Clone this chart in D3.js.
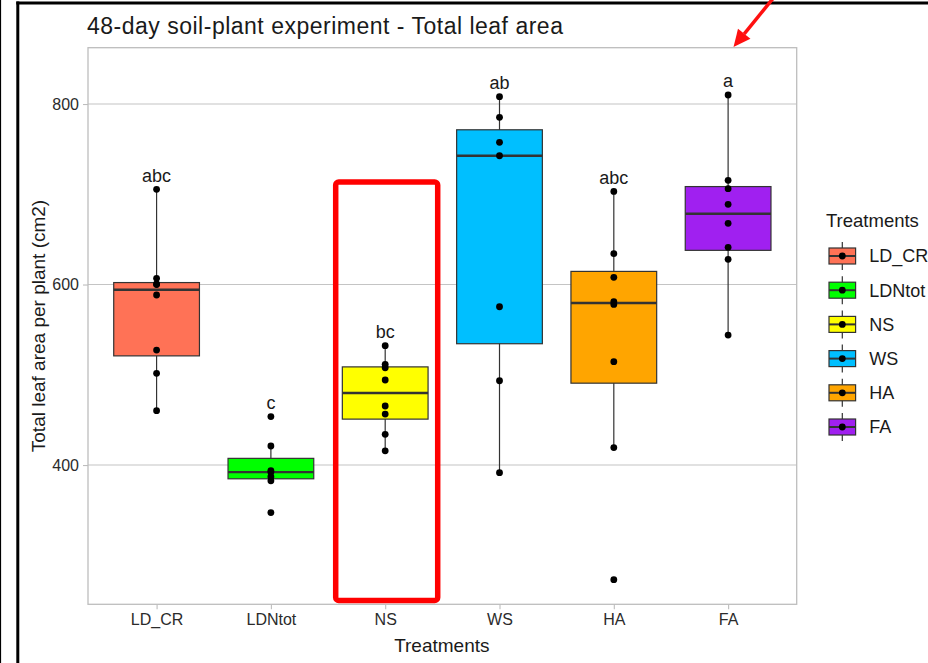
<!DOCTYPE html>
<html>
<head>
<meta charset="utf-8">
<script src="https://cdn.jsdelivr.net/npm/d3@7"></script>
<style>
  html, body { margin: 0; padding: 0; background: #fff; overflow: hidden; }
  svg { display: block; font-family: "Liberation Sans", Arial, sans-serif; }
</style>
</head>
<body>
<svg id="chart" width="928" height="663"></svg>
<script>
// Treatments and their colours
const treatments = ["LD_CR", "LDNtot", "NS", "WS", "HA", "FA"];
const fills = ["#FF7256", "#00FF00", "#FFFF00", "#00BFFF", "#FFA500", "#A020F0"];
const letters = ["abc", "c", "bc", "ab", "abc", "a"];

// Total leaf area per plant (cm2), one array per treatment
const LD_CR = [705.5, 606.9, 600.6, 600.0, 588.4, 527.4, 501.6, 460.2];
const LDNtot = [453.7, 421.1, 393.7, 392.2, 387.0, 382.5, 347.3];
const NS = [532.2, 511.6, 507.8, 494.2, 465.4, 456.5, 434.0, 415.8];
const WS = [808.1, 785.3, 757.6, 742.7, 575.4, 493.4, 391.5];
const HA = [703.2, 634.2, 608.0, 581.0, 578.0, 514.5, 419.3, 273.0];
const FA = [810.0, 715.5, 706.2, 688.9, 667.8, 641.2, 627.9, 544.0];

const yTicks = [400, 600, 800];
const yDomain = [245.7, 862.4];

const values = [LD_CR, LDNtot, NS, WS, HA, FA];

const svg = d3.select("#chart");
const panel = { left: 88, right: 796.7, top: 47.7, bottom: 604.3 };

const x = d3.scalePoint().domain(treatments).range([panel.left, panel.right]).padding(0.6);
const y = d3.scaleLinear().domain(yDomain).range([panel.bottom, panel.top]);
const boxW = x.step() * 0.75;

// Tukey box statistics (R type-7 quantiles)
const stats = values.map((v, i) => {
  const s = v.slice().sort(d3.ascending);
  const q1 = d3.quantile(s, 0.25), med = d3.quantile(s, 0.5), q3 = d3.quantile(s, 0.75);
  const iqr = q3 - q1;
  const inside = s.filter(d => d >= q1 - 1.5 * iqr && d <= q3 + 1.5 * iqr);
  return { key: treatments[i], fill: fills[i], q1, med, q3, lo: d3.min(inside), hi: d3.max(inside), max: d3.max(s), pts: s };
});

// outer frame
svg.append("line").attr("x1", 0.5).attr("x2", 0.5).attr("y1", 0).attr("y2", 663)
  .attr("stroke", "#000").attr("stroke-width", 1.2);
svg.append("line").attr("x1", 17.8).attr("x2", 17.8).attr("y1", 1.5).attr("y2", 663)
  .attr("stroke", "#000").attr("stroke-width", 3);
svg.append("line").attr("x1", 16.3).attr("x2", 928).attr("y1", 3).attr("y2", 3)
  .attr("stroke", "#000").attr("stroke-width", 3);

// title
svg.append("text").attr("x", panel.left - 1).attr("y", 33.5)
  .attr("font-size", 23).attr("letter-spacing", 0.5).attr("fill", "#1a1a1a")
  .text("48-day soil-plant experiment - Total leaf area");

// grid lines
svg.append("g").selectAll("line").data(yTicks).join("line")
  .attr("x1", panel.left).attr("x2", panel.right)
  .attr("y1", d => y(d)).attr("y2", d => y(d))
  .attr("stroke", "#c4c4c4").attr("stroke-width", 1.1);

// axes
const yAxis = svg.append("g").attr("transform", `translate(${panel.left},0)`)
  .call(d3.axisLeft(y).tickValues(yTicks).tickSize(5).tickPadding(4));
const xAxis = svg.append("g").attr("transform", `translate(0,${panel.bottom})`)
  .call(d3.axisBottom(x).tickSize(5).tickPadding(4));
[yAxis, xAxis].forEach(g => {
  g.select(".domain").remove();
  g.selectAll(".tick line").attr("stroke", "#bdbdbd").attr("stroke-width", 1.1);
  g.selectAll(".tick text").attr("fill", "#2b2b2b").attr("font-size", 16)
    .attr("font-family", "Liberation Sans, Arial, sans-serif");
});

// panel border
svg.append("rect").attr("x", panel.left).attr("y", panel.top)
  .attr("width", panel.right - panel.left).attr("height", panel.bottom - panel.top)
  .attr("fill", "none").attr("stroke", "#bdbdbd").attr("stroke-width", 1.3);

// axis titles
svg.append("text").attr("x", (panel.left + panel.right) / 2 - 0.5).attr("y", 652)
  .attr("text-anchor", "middle").attr("font-size", 19).attr("fill", "#1a1a1a").text("Treatments");
svg.append("text").attr("transform", `translate(44.5,${(panel.top + panel.bottom) / 2}) rotate(-90)`)
  .attr("text-anchor", "middle").attr("font-size", 19).attr("fill", "#1a1a1a")
  .text("Total leaf area per plant (cm2)");

// boxplots
const boxes = svg.append("g").selectAll("g").data(stats).join("g")
  .attr("transform", d => `translate(${x(d.key)},0)`);
boxes.append("line").attr("x1", 0).attr("x2", 0)
  .attr("y1", d => y(d.hi)).attr("y2", d => y(d.lo))
  .attr("stroke", "#333").attr("stroke-width", 1.2);
boxes.append("rect").attr("x", -boxW / 2).attr("width", boxW)
  .attr("y", d => y(d.q3)).attr("height", d => y(d.q1) - y(d.q3))
  .attr("fill", d => d.fill).attr("stroke", "#333").attr("stroke-width", 1.2);
boxes.append("line").attr("x1", -boxW / 2).attr("x2", boxW / 2)
  .attr("y1", d => y(d.med)).attr("y2", d => y(d.med))
  .attr("stroke", "#333").attr("stroke-width", 2.4);
boxes.selectAll("circle").data(d => d.pts).join("circle")
  .attr("cx", 0).attr("cy", d => y(d)).attr("r", 3.4).attr("fill", "#000");
boxes.append("text").attr("x", 0).attr("y", (d, i) => y(d.max) - 7.5)
  .attr("text-anchor", "middle").attr("font-size", 18).attr("fill", "#1a1a1a")
  .text((d, i) => letters[i]);

// highlight frame around NS
const nsX = x("NS");
svg.append("rect").attr("x", nsX - 49.5).attr("y", 182).attr("width", 102).attr("height", 418.5)
  .attr("rx", 3).attr("fill", "none").attr("stroke", "#ff0000").attr("stroke-width", 5.5);

// arrow pointing at the panel corner above FA
const tip = [733.5, 47];
const tail = [775, -4];
const ang = Math.atan2(tip[1] - tail[1], tip[0] - tail[0]);
const headLen = 17, headHalf = 8;
const base = [tip[0] - headLen * Math.cos(ang), tip[1] - headLen * Math.sin(ang)];
svg.append("line").attr("x1", tail[0]).attr("y1", tail[1]).attr("x2", base[0]).attr("y2", base[1])
  .attr("stroke", "#ff1010").attr("stroke-width", 3.5);
svg.append("path").attr("fill", "#ff1010").attr("d", d3.line()([
  tip,
  [base[0] + headHalf * Math.sin(ang), base[1] - headHalf * Math.cos(ang)],
  [base[0] - headHalf * Math.sin(ang), base[1] + headHalf * Math.cos(ang)]
]) + "Z");

// legend
const lg = svg.append("g");
lg.append("text").attr("x", 826).attr("y", 227).attr("font-size", 18.5).attr("fill", "#1a1a1a").text("Treatments");
const rows = lg.selectAll("g").data(stats).join("g")
  .attr("transform", (d, i) => `translate(842.3,${256 + i * 34.2})`);
rows.append("line").attr("x1", 0).attr("x2", 0).attr("y1", -14).attr("y2", 14)
  .attr("stroke", "#333").attr("stroke-width", 1.2);
rows.append("rect").attr("x", -13.3).attr("y", -8).attr("width", 26.6).attr("height", 16)
  .attr("fill", d => d.fill).attr("stroke", "#333").attr("stroke-width", 1.2);
rows.append("line").attr("x1", -13.3).attr("x2", 13.3).attr("y1", 0).attr("y2", 0)
  .attr("stroke", "#333").attr("stroke-width", 2);
rows.append("circle").attr("r", 3.4).attr("fill", "#000");
rows.append("text").attr("x", 27).attr("y", 0).attr("dy", "0.36em")
  .attr("font-size", 18).attr("fill", "#1a1a1a").text(d => d.key);
</script>
</body>
</html>
